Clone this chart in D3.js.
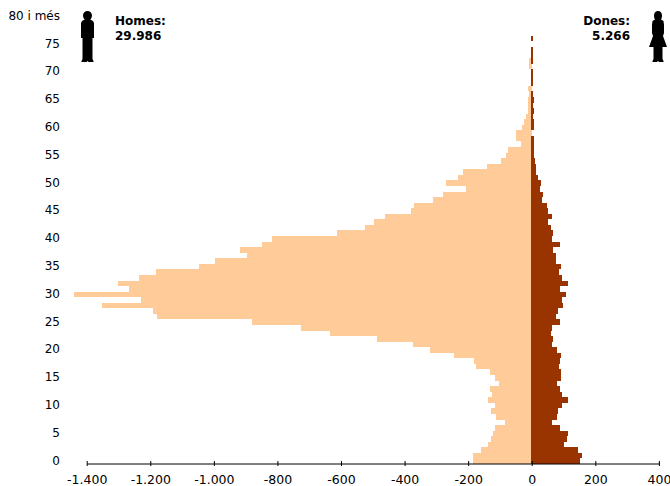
<!DOCTYPE html>
<html>
<head>
<meta charset="utf-8">
<script src="https://d3js.org/d3.v7.min.js"></script>
<style>
  body { margin: 0; background: #fff; }
  text { font-family: "DejaVu Sans", sans-serif; fill: #000; }
  .edat { font-size: 12px; }
  .tick-label { font-size: 12.5px; }
  .total { font-size: 12px; font-weight: bold; }
</style>
</head>
<body>
<div id="visualization"></div>
<script>
// population per single year of age, 0 up to 76
const ages = d3.range(0, 81);
const homes = [-184,-184,-159,-137,-127,-121,-115,-83,-112,-127,
  -115,-137,-124,-130,-102,-115,-130,-175,-181,-244,
  -319,-373,-486,-634,-725,-879,-1178,-1190,-1351,-1228,
  -1439,-1266,-1303,-1237,-1181,-1046,-995,-895,-917,-847,
  -816,-612,-524,-495,-461,-379,-369,-310,-278,-206,
  -269,-231,-215,-140,-96,-80,-74,-33,-49,-49,
  -30,-24,-17,-11,-11,-11,-8,-11,-3,-3,
  -3,-8,-8,0,0,0,0,0,0,0,0];
const dones = [152,158,146,102,112,115,90,64,80,83,
  96,115,96,90,80,93,93,86,88,93,
  80,64,67,61,64,90,77,83,99,96,
  108,90,115,96,86,93,77,77,67,90,
  64,67,61,52,64,52,49,33,36,27,
  30,20,14,14,11,6,6,6,6,0,
  6,6,4,6,4,6,4,0,4,4,
  4,0,4,4,4,0,4,0,0,0,0];
const ageLabels = [0,5,10,15,20,25,30,35,40,45,50,55,60,65,70,75];
const xTicks = [-1400,-1200,-1000,-800,-600,-400,-200,0,200,400];

render();

function render() {
  const width = 670,
        height = 486;

  const x = d3.scaleLinear()
              .domain([-1400, 400])
              .range([86.7, 658.9]);

  const y = d3.scaleBand()
              .domain(ages.slice().reverse())
              .range([13.6, 464]);

  const svg = d3.select('#visualization').append('svg')
                .attr('width', width)
                .attr('height', height)
                .style('display', 'block');

  svg.selectAll('.home')
     .data(ages.filter(d => homes[d] < 0))
     .enter().append('rect')
     .attr('class', 'home')
     .attr('x', d => x(homes[d]))
     .attr('y', d => y(d))
     .attr('width', d => x(0) - x(homes[d]))
     .attr('height', y.bandwidth())
     .attr('fill', '#ffcc99')
     .attr('shape-rendering', 'crispEdges');

  svg.selectAll('.dona')
     .data(ages.filter(d => dones[d] > 0))
     .enter().append('rect')
     .attr('class', 'dona')
     .attr('x', x(0) - 0.5)
     .attr('y', d => y(d))
     .attr('width', d => x(dones[d]) - x(0) + 0.5)
     .attr('height', y.bandwidth())
     .attr('fill', '#993300')
     .attr('shape-rendering', 'crispEdges');

  // X axis
  const xAxis = d3.axisBottom(x)
                  .tickValues(xTicks)
                  .tickSize(0)
                  .tickPadding(0)
                  .tickFormat(d => d3.format(',')(d).replace(/,/g, '.').replace('\u2212', '-'));

  const axis = svg.append('g')
                  .attr('transform', 'translate(0,463.5)')
                  .call(xAxis);
  axis.select('.domain').attr('stroke', '#000').attr('stroke-width', 1);
  axis.selectAll('.tick line')
      .attr('y1', -2.5)
      .attr('y2', 2.5)
      .attr('stroke', '#000');
  axis.selectAll('.tick text')
      .attr('class', 'tick-label')
      .attr('y', 11.5)
      .attr('dy', '.71em');
  axis.attr('font-size', null).attr('font-family', null);

  // Age labels
  svg.selectAll('.edat')
     .data(ageLabels)
     .enter().append('text')
     .attr('class', 'edat')
     .attr('x', 60)
     .attr('y', d => y(d) + 2)
     .attr('dy', '.35em')
     .attr('text-anchor', 'end')
     .text(d => d);

  svg.append('text')
     .attr('class', 'edat')
     .attr('x', 60)
     .attr('y', 16)
     .attr('dy', '.35em')
     .attr('text-anchor', 'end')
     .text('80 i més');

  // Totals
  const totals = [
    {lines: ['Homes:', '29.986'], x: 115, anchor: 'start'},
    {lines: ['Dones:', '5.266'], x: 630, anchor: 'end'}
  ];
  totals.forEach(t => {
    t.lines.forEach((line, i) => {
      svg.append('text')
         .attr('class', 'total')
         .attr('x', t.x)
         .attr('y', 24.5 + i * 15)
         .attr('text-anchor', t.anchor)
         .text(line);
    });
  });

  // Silhouettes
  svg.append('path')
     .attr('d', 'M87.5 11C90 11 92 13 92 15.5C92 17 91.3 18.5 90.3 19.5L93 21L94 23V38H92.5V59L93.5 61V62H88.5L87.5 61L86.5 62H81.5V61L82.5 59V38H81V23L82 21L84.7 19.5C83.7 18.5 83 17 83 15.5C83 13 85 11 87.5 11Z')
     .attr('fill', '#000');
  svg.append('path')
     .attr('d', 'M658 11C660.5 11 662 13 662 15.5C662 17.5 661.5 18.5 661 19.5L663.5 21L664 25V33L663 36L667 47H662.5V59L663.5 61V62H659L658 61L657 62H652.5V61L653.5 59V47H649L653 36L652 33V25L652.5 21L655 19.5C654.5 18.5 654 17.5 654 15.5C654 13 655.5 11 658 11Z')
     .attr('fill', '#000');
}
</script>
</body>
</html>
